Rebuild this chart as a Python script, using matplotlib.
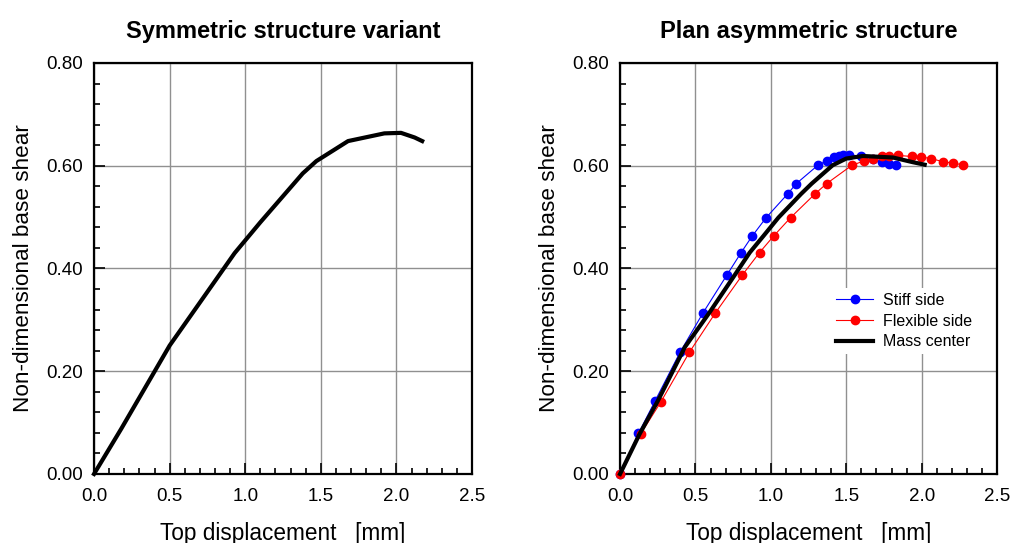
import matplotlib
matplotlib.use("Agg")
import matplotlib.pyplot as plt
from matplotlib.ticker import MultipleLocator, FormatStrFormatter

plt.rcParams["font.family"] = ["Liberation Sans", "DejaVu Sans"]

# ------------------------------------------------------------
# Data
# ------------------------------------------------------------
# symmetric structure
sym_x = [0.0, 0.18, 0.50, 0.93, 1.10, 1.38, 1.47, 1.68, 1.92, 2.03, 2.12, 2.17]
sym_y = [0.0, 0.088, 0.250, 0.430, 0.490, 0.585, 0.609, 0.648, 0.663, 0.664, 0.655, 0.648]

# plan asymmetric structure: stiff side
stiff_x = [0.0, 0.122, 0.232, 0.398, 0.549, 0.708, 0.803, 0.876, 0.969, 1.111, 1.168,
           1.312, 1.372, 1.416, 1.449, 1.478, 1.515, 1.597, 1.677, 1.737, 1.781, 1.827]
stiff_y = [0.0, 0.079, 0.142, 0.237, 0.313, 0.387, 0.431, 0.463, 0.499, 0.545, 0.565,
           0.601, 0.610, 0.617, 0.619, 0.620, 0.621, 0.619, 0.613, 0.607, 0.604, 0.601]

# flexible side
flex_x = [0.0, 0.137, 0.272, 0.460, 0.631, 0.810, 0.925, 1.018, 1.131, 1.292, 1.369,
          1.538, 1.615, 1.677, 1.737, 1.783, 1.843, 1.938, 1.998, 2.062, 2.139, 2.208, 2.272]
flex_y = [0.0, 0.078, 0.141, 0.237, 0.313, 0.387, 0.431, 0.463, 0.499, 0.545, 0.565,
          0.601, 0.609, 0.614, 0.618, 0.619, 0.620, 0.618, 0.617, 0.614, 0.608, 0.605, 0.602]

# mass center
mass_x = [0.0, 0.13, 0.25, 0.43, 0.59, 0.76, 0.86, 0.95, 1.05, 1.20, 1.27, 1.41, 1.50,
          1.61, 1.81, 1.94, 2.02]
mass_y = [0.0, 0.078, 0.142, 0.247, 0.313, 0.387, 0.431, 0.463, 0.499, 0.545, 0.565,
          0.601, 0.614, 0.619, 0.616, 0.607, 0.602]

# ------------------------------------------------------------
# Figure
# ------------------------------------------------------------
fig = plt.figure(figsize=(10.10, 5.43), dpi=100)
ax1 = fig.add_axes([0.0931, 0.1271, 0.3743, 0.7569])
ax2 = fig.add_axes([0.6139, 0.1271, 0.3733, 0.7569])


def style_axes(ax, title):
    ax.set_xlim(0, 2.5)
    ax.set_ylim(0, 0.8)
    ax.xaxis.set_major_locator(MultipleLocator(0.5))
    ax.xaxis.set_minor_locator(MultipleLocator(0.1))
    ax.yaxis.set_major_locator(MultipleLocator(0.2))
    ax.yaxis.set_minor_locator(MultipleLocator(0.04))
    ax.xaxis.set_major_formatter(FormatStrFormatter("%.1f"))
    ax.yaxis.set_major_formatter(FormatStrFormatter("%.2f"))
    ax.tick_params(which="both", direction="in", top=False, right=False,
                   labelsize=13.5, colors="black", width=1.2)
    ax.tick_params(which="major", length=8, pad=8)
    ax.tick_params(axis="x", which="major", pad=10)
    ax.tick_params(which="minor", length=4.5)
    ax.grid(True, which="major", color="#909090", linewidth=1.0)
    ax.set_axisbelow(True)
    for s in ax.spines.values():
        s.set_linewidth(1.6)
    ax.set_title(title, fontsize=17, fontweight="bold", pad=18)
    ax.set_xlabel("Top displacement   [mm]", fontsize=16.3, labelpad=12)
    ax.set_ylabel("Non-dimensional base shear", fontsize=16.2, labelpad=9)


style_axes(ax1, "Symmetric structure variant")
style_axes(ax2, "Plan asymmetric structure")

ax1.plot(sym_x, sym_y, color="black", linewidth=3, clip_on=False, zorder=3)

ax2.plot(stiff_x, stiff_y, color="blue", linewidth=0.8, marker="o",
         markersize=6, label="Stiff side", clip_on=False, zorder=3)
ax2.plot(flex_x, flex_y, color="red", linewidth=0.8, marker="o",
         markersize=6, label="Flexible side", clip_on=False, zorder=4)
ax2.plot(mass_x, mass_y, color="black", linewidth=3,
         label="Mass center", clip_on=False, zorder=5)

leg = ax2.legend(loc="center left", bbox_to_anchor=(0.54, 0.372), fontsize=11.5,
                 frameon=True, handlelength=2.3, labelspacing=0.35,
                 borderpad=0.3, handletextpad=0.6)
leg.get_frame().set_facecolor("white")
leg.get_frame().set_edgecolor("none")
leg.get_frame().set_alpha(1)

fig.savefig("out.png", dpi=100)
